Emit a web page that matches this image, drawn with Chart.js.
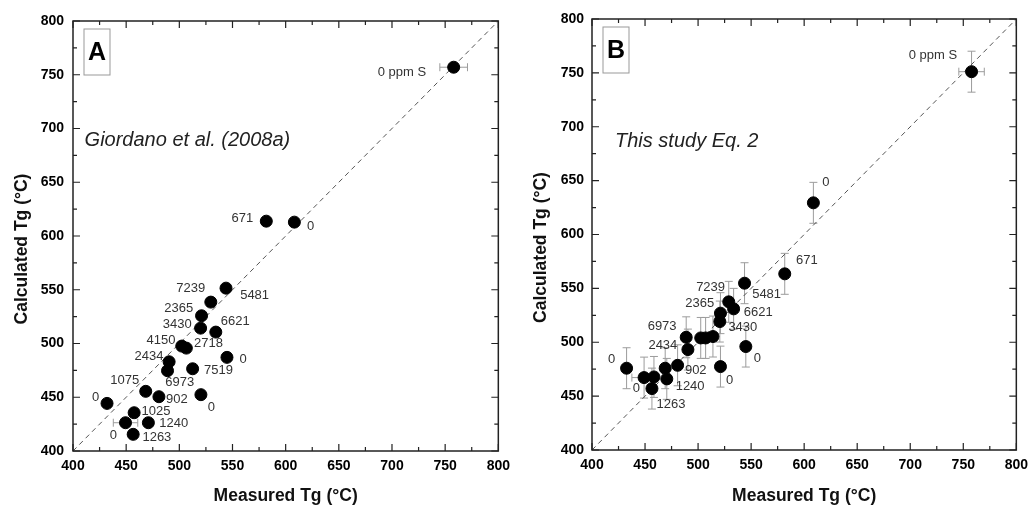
<!DOCTYPE html>
<html><head><meta charset="utf-8">
<script src="https://cdn.jsdelivr.net/npm/chart.js@4"></script>
<style>
html,body{margin:0;padding:0;background:#fff;overflow:hidden;width:1035px;height:509px}
#a{position:absolute;left:0;top:0;width:517px;height:509px}
#b{position:absolute;left:517px;top:0;width:518px;height:509px}
</style>
</head><body>
<canvas id="a" width="517" height="509"></canvas>
<canvas id="b" width="518" height="509"></canvas>
<script>
// ---------- Data ----------
const tickValues = [400, 450, 500, 550, 600, 650, 700, 750, 800];
const minorTickValues = [425, 475, 525, 575, 625, 675, 725, 775];
const oneToOne = [400, 800];

// Panel A: Giordano et al. (2008a)
const measuredA   = [758.0, 581.8, 608.2, 543.9, 529.6, 520.9, 520.0, 534.3, 502.3, 506.6, 544.8, 490.4, 488.9, 512.5, 468.4, 480.8, 520.3, 432.0, 457.5, 449.4, 470.9, 456.6];
const calculatedA = [757.0, 613.8, 612.9, 551.5, 538.5, 525.8, 514.3, 510.6, 497.6, 495.7, 487.1, 483.0, 474.7, 476.5, 455.5, 450.5, 452.4, 444.3, 435.6, 426.3, 426.3, 415.5];
const xErrA       = [13, 0, 0, 0, 0, 0, 0, 0, 0, 0, 0, 0, 0, 0, 0, 0, 0, 0, 0, 11.5, 0, 0];
const yErrA       = [0, 0, 0, 0, 0, 0, 0, 0, 0, 0, 0, 0, 0, 0, 0, 0, 0, 0, 0, 0, 0, 0];
const labelTextA  = ['0 ppm S','671','0','7239','5481','2365','3430','6621','4150','2718','0','2434','7519','6973','1075','902','0','0','1025','1240','0','1263'];
const labelXA     = [709.3, 559.2, 623.5, 510.7, 570.8, 499.5, 498.1, 552.6, 482.7, 527.5, 560.1, 471.5, 536.8, 500.4, 448.7, 497.6, 530.2, 421.2, 478.0, 494.8, 437.9, 478.9];
const labelYA     = [752.3, 616.6, 609.1, 551.5, 545.0, 532.9, 518.0, 520.8, 503.2, 500.4, 485.5, 488.3, 475.3, 464.1, 466.0, 448.3, 440.9, 450.2, 437.2, 426.0, 414.9, 413.0];

// Panel B: This study Eq. 2
const measuredB   = [757.8, 608.7, 581.7, 543.8, 528.9, 533.5, 521.1, 520.5, 502.5, 507.1, 514.0, 488.8, 490.4, 545.0, 521.1, 480.7, 469.0, 470.5, 432.6, 449.1, 458.4, 456.5];
const calculatedB = [751.1, 629.4, 563.5, 554.8, 537.5, 531.0, 527.0, 519.2, 504.0, 504.0, 505.3, 504.6, 493.2, 496.0, 477.4, 478.6, 475.9, 466.0, 475.9, 467.2, 467.8, 457.0];
const xErrB       = [12, 0, 0, 0, 0, 0, 0, 0, 0, 0, 0, 0, 0, 0, 0, 0, 0, 0, 0, 11.5, 0, 0];
const yErrB       = [19, 19, 19, 19, 19, 19, 19, 19, 19, 19, 19, 19, 19, 19, 19, 19, 19, 19, 19, 19, 19, 19];
const labelTextB  = ['0 ppm S','0','671','7239','5481','2365','6621','3430','6973','2434','0','0','902','0','1240','0','1263'];
const labelXB     = [721.4, 620.5, 602.5, 511.8, 564.6, 501.6, 556.8, 542.2, 466.1, 466.8, 555.9, 418.6, 497.8, 529.8, 492.5, 441.9, 474.5];
const labelYB     = [766.0, 648.3, 575.5, 550.8, 544.6, 536.2, 527.9, 513.9, 514.6, 497.5, 485.1, 483.6, 474.3, 464.4, 459.4, 457.3, 442.7];

const xTitle = 'Measured Tg (°C)';
const yTitle = 'Calculated Tg (°C)';

// ---------- Drawing ----------
const FONT = "'Liberation Sans', Arial, Helvetica, sans-serif";

function makePlugin(p) {
  return {
    id: 'panel' + p.letter,
    beforeDatasetsDraw(chart) {
      const ctx = chart.ctx, xs = chart.scales.x, ys = chart.scales.y;
      ctx.save();
      ctx.strokeStyle = '#9c9c9c';
      ctx.lineWidth = 1;
      const seg = (x1, y1, x2, y2) => { ctx.beginPath(); ctx.moveTo(x1, y1); ctx.lineTo(x2, y2); ctx.stroke(); };
      p.x.forEach((xv, i) => {
        const px = xs.getPixelForValue(xv), py = ys.getPixelForValue(p.y[i]);
        const ex = p.xErr[i], ey = p.yErr[i];
        if (ex) {
          const l = xs.getPixelForValue(xv - ex), r = xs.getPixelForValue(xv + ex);
          seg(l, py, r, py); seg(l, py - 4, l, py + 4); seg(r, py - 4, r, py + 4);
        }
        if (ey) {
          const t = ys.getPixelForValue(p.y[i] + ey), b = ys.getPixelForValue(p.y[i] - ey);
          seg(px, t, px, b); seg(px - 4, t, px + 4, t); seg(px - 4, b, px + 4, b);
        }
      });
      ctx.restore();
    },
    afterDraw(chart) {
      const ctx = chart.ctx, xs = chart.scales.x, ys = chart.scales.y, a = chart.chartArea;
      ctx.save();
      // inward ticks
      ctx.strokeStyle = '#222';
      ctx.lineWidth = 1.2;
      const tick = (vals, len) => {
        vals.forEach(v => {
          const px = xs.getPixelForValue(v), py = ys.getPixelForValue(v);
          ctx.beginPath();
          ctx.moveTo(px, a.bottom); ctx.lineTo(px, a.bottom - len);
          ctx.moveTo(px, a.top); ctx.lineTo(px, a.top + len);
          ctx.moveTo(a.left, py); ctx.lineTo(a.left + len, py);
          ctx.moveTo(a.right, py); ctx.lineTo(a.right - len, py);
          ctx.stroke();
        });
      };
      tick(tickValues, 7);
      tick(minorTickValues, 4);
      // frame
      ctx.lineWidth = 1.5;
      ctx.strokeStyle = '#222';
      ctx.strokeRect(a.left, a.top, a.right - a.left, a.bottom - a.top);
      // point labels
      ctx.fillStyle = '#333';
      ctx.font = '13px ' + FONT;
      ctx.textAlign = 'center';
      ctx.textBaseline = 'middle';
      p.labels.forEach((t, i) => {
        ctx.fillText(t, xs.getPixelForValue(p.lx[i]), ys.getPixelForValue(p.ly[i]));
      });
      // panel letter box
      const bx = a.left + 11, by = a.top + 8;
      ctx.strokeStyle = '#999';
      ctx.lineWidth = 1;
      ctx.strokeRect(bx, by, 26, 46);
      ctx.fillStyle = '#000';
      ctx.font = 'bold 25px ' + FONT;
      ctx.fillText(p.letter, bx + 13, by + 24);
      // italic caption
      ctx.font = 'italic 20px ' + FONT;
      ctx.textAlign = 'left';
      ctx.fillStyle = '#222';
      ctx.fillText(p.caption, xs.getPixelForValue(p.capX), ys.getPixelForValue(p.capY));
      // axis titles
      ctx.fillStyle = '#111';
      ctx.font = 'bold 17.5px ' + FONT;
      ctx.textAlign = 'center';
      ctx.fillText(xTitle, (a.left + a.right) / 2, chart.height - 13);
      ctx.translate(p.yTitleX, (a.top + a.bottom) / 2 + 13);
      ctx.rotate(-Math.PI / 2);
      ctx.fillText(yTitle, 0, 0);
      ctx.restore();
    }
  };
}

function makeChart(id, p) {
  const pts = p.x.map((v, i) => ({x: v, y: p.y[i]}));
  const line = oneToOne.map(v => ({x: v, y: v}));
  return new Chart(document.getElementById(id), {
    type: 'scatter',
    data: {
      datasets: [
        {type: 'scatter', data: pts, backgroundColor: '#000', borderColor: '#000', pointRadius: 6, pointHoverRadius: 6, order: 1},
        {type: 'line', data: line, borderColor: '#555', borderWidth: 1, borderDash: [5, 4], pointRadius: 0, fill: false, order: 2}
      ]
    },
    options: {
      responsive: false,
      animation: false,
      devicePixelRatio: 1,
      layout: {padding: {left: 0, top: p.padTop, right: p.padRight, bottom: 0}},
      plugins: {legend: {display: false}, tooltip: {enabled: false}},
      scales: {
        x: {
          type: 'linear', min: 400, max: 800,
          afterFit(s) { s.height = p.xAxisH; },
          afterBuildTicks(s) { s.ticks = tickValues.map(v => ({value: v})); },
          grid: {display: false, drawTicks: false},
          border: {display: false},
          ticks: {padding: 7, color: '#000', font: {family: FONT, size: 14, weight: 'bold'}}
        },
        y: {
          type: 'linear', min: 400, max: 800,
          afterFit(s) { s.width = p.yAxisW; },
          afterBuildTicks(s) { s.ticks = tickValues.map(v => ({value: v})); },
          grid: {display: false, drawTicks: false},
          border: {display: false},
          ticks: {padding: p.yPad, color: '#000', font: {family: FONT, size: 14, weight: 'bold'}}
        }
      }
    },
    plugins: [makePlugin(p)]
  });
}

makeChart('a', {
  letter: 'A', x: measuredA, y: calculatedA, xErr: xErrA, yErr: yErrA,
  labels: labelTextA, lx: labelXA, ly: labelYA,
  caption: 'Giordano et al. (2008a)', capX: 410.9, capY: 689,
  padTop: 21, padRight: 15, xAxisH: 58, yAxisW: 73, yPad: 9, yTitleX: 22
});
makeChart('b', {
  letter: 'B', x: measuredB, y: calculatedB, xErr: xErrB, yErr: yErrB,
  labels: labelTextB, lx: labelXB, ly: labelYB,
  caption: 'This study Eq. 2', capX: 421.7, capY: 686.3,
  padTop: 19, padRight: 14, xAxisH: 59, yAxisW: 75, yPad: 8, yTitleX: 24
});
</script>
</body></html>
